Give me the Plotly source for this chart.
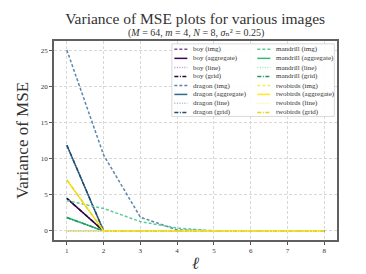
import plotly.graph_objects as go

ell = [1, 2, 3, 4, 5, 6, 7, 8]

boy_img = [0, 0, 0, 0, 0, 0, 0, 0]
boy_agg = [4.5, 0, 0, 0, 0, 0, 0, 0]
boy_line = [0, 0, 0, 0, 0, 0, 0, 0]
boy_grid = [4.5, 0, 0, 0, 0, 0, 0, 0]

dragon_img = [25.0, 10.5, 1.9, 0.15, 0, 0, 0, 0]
dragon_agg = [11.85, 0, 0, 0, 0, 0, 0, 0]
dragon_line = [0, 0, 0, 0, 0, 0, 0, 0]
dragon_grid = [11.85, 0, 0, 0, 0, 0, 0, 0]

mandrill_img = [4.2, 3.1, 1.3, 0.4, 0.02, 0, 0, 0]
mandrill_agg = [1.85, 0, 0, 0, 0, 0, 0, 0]
mandrill_line = [0, 0, 0, 0, 0, 0, 0, 0]
mandrill_grid = [1.85, 0, 0, 0, 0, 0, 0, 0]

twobirds_img = [0, 0, 0, 0, 0, 0, 0, 0]
twobirds_agg = [7.05, 0, 0, 0, 0, 0, 0, 0]
twobirds_line = [0, 0, 0, 0, 0, 0, 0, 0]
twobirds_grid = [7.05, 0, 0, 0, 0, 0, 0, 0]

images = ["boy", "dragon", "mandrill", "twobirds"]
methods = ["img", "aggregate", "line", "grid"]
values = {
    "boy": [boy_img, boy_agg, boy_line, boy_grid],
    "dragon": [dragon_img, dragon_agg, dragon_line, dragon_grid],
    "mandrill": [mandrill_img, mandrill_agg, mandrill_line, mandrill_grid],
    "twobirds": [twobirds_img, twobirds_agg, twobirds_line, twobirds_grid],
}
colors = {
    "boy": ["#7d4f93", "#440154", "#b596c6", "#2a0838"],
    "dragon": ["#5b86aa", "#31688e", "#9ab7cf", "#1f4a6b"],
    "mandrill": ["#5ccb93", "#35b779", "#a2dfbf", "#26955f"],
    "twobirds": ["#fde95e", "#fde725", "#fef09a", "#e8d21a"],
}
dashes = ["3px,2px", "solid", "1px,1.5px", "4px,1.5px,1px,1.5px"]

FONT = "'Liberation Serif', 'DejaVu Serif', serif"
W, H = 366, 274
L, R, T, B = 45.6, 328.7, 33.0, 242.7

fig = go.Figure()
for im in images:
    for k, m in enumerate(methods):
        fig.add_trace(go.Scatter(
            x=ell, y=values[im][k], mode="lines", name=f"{im} ({m})",
            line=dict(color=colors[im][k], width=1.5, dash=dashes[k]),
            showlegend=False))

def px(xp):
    return (xp - L) / (R - L)

def py(yp):
    return (B - yp) / (B - T)

shapes = []
annotations = []
shapes.append(dict(type="rect", xref="paper", yref="paper",
                   x0=px(163.5), x1=px(326), y0=py(112.5), y1=py(36),
                   line=dict(color="#d0d0d0", width=0.8),
                   fillcolor="rgba(255,255,255,0.9)", layer="above"))
row_y = [41.7, 51.3, 61.0, 70.3, 80.0, 89.3, 98.7, 108.3]
col_x = [(166, 179, 183), (249, 262, 266)]
for ci, pair in enumerate([images[:2], images[2:]]):
    r = 0
    for im in pair:
        for k, m in enumerate(methods):
            x0, x1, xt = col_x[ci]
            yy = py(row_y[r])
            shapes.append(dict(type="line", xref="paper", yref="paper",
                               x0=px(x0), x1=px(x1), y0=yy, y1=yy,
                               line=dict(color=colors[im][k], width=1.5, dash=dashes[k]),
                               layer="above"))
            annotations.append(dict(xref="paper", yref="paper", x=px(xt), y=yy,
                                    text=f"{im} ({m})", showarrow=False,
                                    xanchor="left", yanchor="middle",
                                    font=dict(size=7, color="#333333", family=FONT)))
            r += 1

annotations.append(dict(xref="paper", yref="paper", x=0.5, y=py(25),
                        text="(<i>M</i> = 64, <i>m</i> = 4, <i>N</i> = 8, <i>σ</i>ₙ² = 0.25)",
                        showarrow=False, xanchor="center", yanchor="middle",
                        font=dict(size=10, color="#333333", family=FONT)))

fig.update_layout(
    width=W, height=H,
    margin=dict(l=L, r=W - R, t=T, b=H - B),
    paper_bgcolor="white", plot_bgcolor="white",
    title=dict(text="Variance of MSE plots for various images",
               x=(L + R) / 2 / W, xanchor="center", y=1 - 11 / H, yanchor="middle",
               font=dict(size=15.5, color="#333333", family=FONT)),
    shapes=shapes, annotations=annotations,
    showlegend=False,
)
fig.update_xaxes(range=[0.65, 8.35], tickvals=ell, ticks="outside", ticklen=3,
                 tickcolor="#555555", tickfont=dict(size=7, family=FONT, color="#333333"),
                 showgrid=True, gridcolor="#d8d8d8", griddash="3px,2px", gridwidth=0.8,
                 showline=True, linecolor="#606060", linewidth=1.5, mirror=True,
                 zeroline=False,
                 title=dict(text="<i>ℓ</i>", font=dict(size=17, family=FONT, color="#333333"),
                            standoff=3))
fig.update_yaxes(range=[-1.25, 26.25], tickvals=[0, 5, 10, 15, 20, 25], ticks="outside", ticklen=3,
                 tickcolor="#555555", tickfont=dict(size=7, family=FONT, color="#333333"),
                 showgrid=True, gridcolor="#d8d8d8", griddash="3px,2px", gridwidth=0.8,
                 showline=True, linecolor="#606060", linewidth=1.5, mirror=True,
                 zeroline=False,
                 title=dict(text="Variance of MSE", font=dict(size=17, family=FONT, color="#333333"),
                            standoff=8))

fig.write_html("out.html")
